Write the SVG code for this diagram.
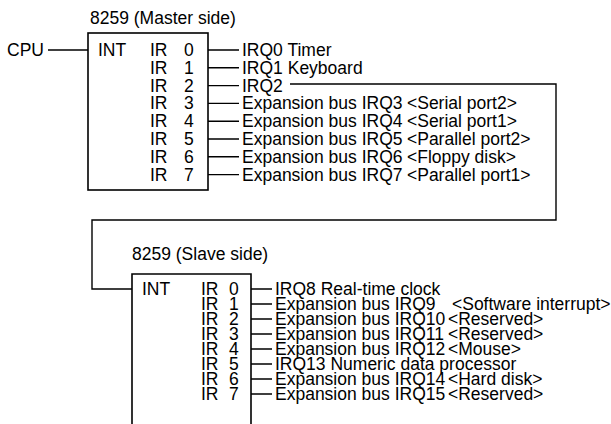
<svg xmlns="http://www.w3.org/2000/svg" width="611" height="424" viewBox="0 0 611 424">
<style>
text{font-family:"Liberation Sans",Arial,sans-serif;font-size:17.5px;fill:#000}
.box{fill:none;stroke:#000;stroke-width:1.6}
.ln{fill:none;stroke:#000;stroke-width:1.4}
</style>
<rect width="611" height="424" fill="#fff"/>
<g id="cpu"><text x="7" y="56">CPU</text></g>
<g id="master">
<text x="90" y="24">8259 (Master side)</text>
<rect class="box" x="88" y="33" width="120" height="157"/>
<text x="98" y="56">INT</text>
<text x="150" y="56">IR <tspan x="184">0</tspan></text>
<text x="150" y="73.8">IR <tspan x="184">1</tspan></text>
<text x="150" y="91.6">IR <tspan x="184">2</tspan></text>
<text x="150" y="109.4">IR <tspan x="184">3</tspan></text>
<text x="150" y="127.2">IR <tspan x="184">4</tspan></text>
<text x="150" y="145">IR <tspan x="184">5</tspan></text>
<text x="150" y="162.8">IR <tspan x="184">6</tspan></text>
<text x="150" y="180.6">IR <tspan x="184">7</tspan></text>
</g>
<g id="master-irq">
<text x="242" y="56">IRQ0 Timer</text>
<text x="242" y="73.8">IRQ1 Keyboard</text>
<text x="242" y="91.6">IRQ2</text>
<text x="242" y="109.4">Expansion bus IRQ3 <tspan x="407">&lt;Serial port2&gt;</tspan></text>
<text x="242" y="127.2">Expansion bus IRQ4 <tspan x="407">&lt;Serial port1&gt;</tspan></text>
<text x="242" y="145">Expansion bus IRQ5 <tspan x="407">&lt;Parallel port2&gt;</tspan></text>
<text x="242" y="162.8">Expansion bus IRQ6 <tspan x="407">&lt;Floppy disk&gt;</tspan></text>
<text x="242" y="180.6">Expansion bus IRQ7 <tspan x="407">&lt;Parallel port1&gt;</tspan></text>
</g>
<g id="slave">
<text x="132" y="260">8259 (Slave side)</text>
<path class="box" d="M132,424V274H251V424"/>
<text x="142" y="295">INT</text>
<text x="201" y="295">IR <tspan x="229">0</tspan></text>
<text x="201" y="310">IR <tspan x="229">1</tspan></text>
<text x="201" y="325">IR <tspan x="229">2</tspan></text>
<text x="201" y="340">IR <tspan x="229">3</tspan></text>
<text x="201" y="355">IR <tspan x="229">4</tspan></text>
<text x="201" y="370">IR <tspan x="229">5</tspan></text>
<text x="201" y="385">IR <tspan x="229">6</tspan></text>
<text x="201" y="400">IR <tspan x="229">7</tspan></text>
</g>
<g id="slave-irq">
<text x="275" y="295">IRQ8 Real-time clock</text>
<text x="275" y="310">Expansion bus IRQ9 <tspan x="452">&lt;Software interrupt&gt;</tspan></text>
<text x="275" y="325">Expansion bus IRQ10 <tspan x="448">&lt;Reserved&gt;</tspan></text>
<text x="275" y="340">Expansion bus IRQ11 <tspan x="448">&lt;Reserved&gt;</tspan></text>
<text x="275" y="355">Expansion bus IRQ12 <tspan x="448">&lt;Mouse&gt;</tspan></text>
<text x="275" y="370">IRQ13 Numeric data processor</text>
<text x="275" y="385">Expansion bus IRQ14 <tspan x="448">&lt;Hard disk&gt;</tspan></text>
<text x="275" y="400">Expansion bus IRQ15 <tspan x="448">&lt;Reserved&gt;</tspan></text>
</g>
<g id="connectors">
<path class="ln" d="M48,50H88"/>
<path class="ln" d="M208,50H239M208,67.8H239M208,85.6H239M208,103.4H239M208,121.2H239M208,139H239M208,156.8H239M208,174.6H239"/>
<path class="ln" d="M290,84H556V220H92V289H132"/>
<path class="ln" d="M251,289H272M251,304H272M251,319H272M251,334H272M251,349H272M251,364H272M251,379H272M251,394H272"/>
</g>
</svg>
